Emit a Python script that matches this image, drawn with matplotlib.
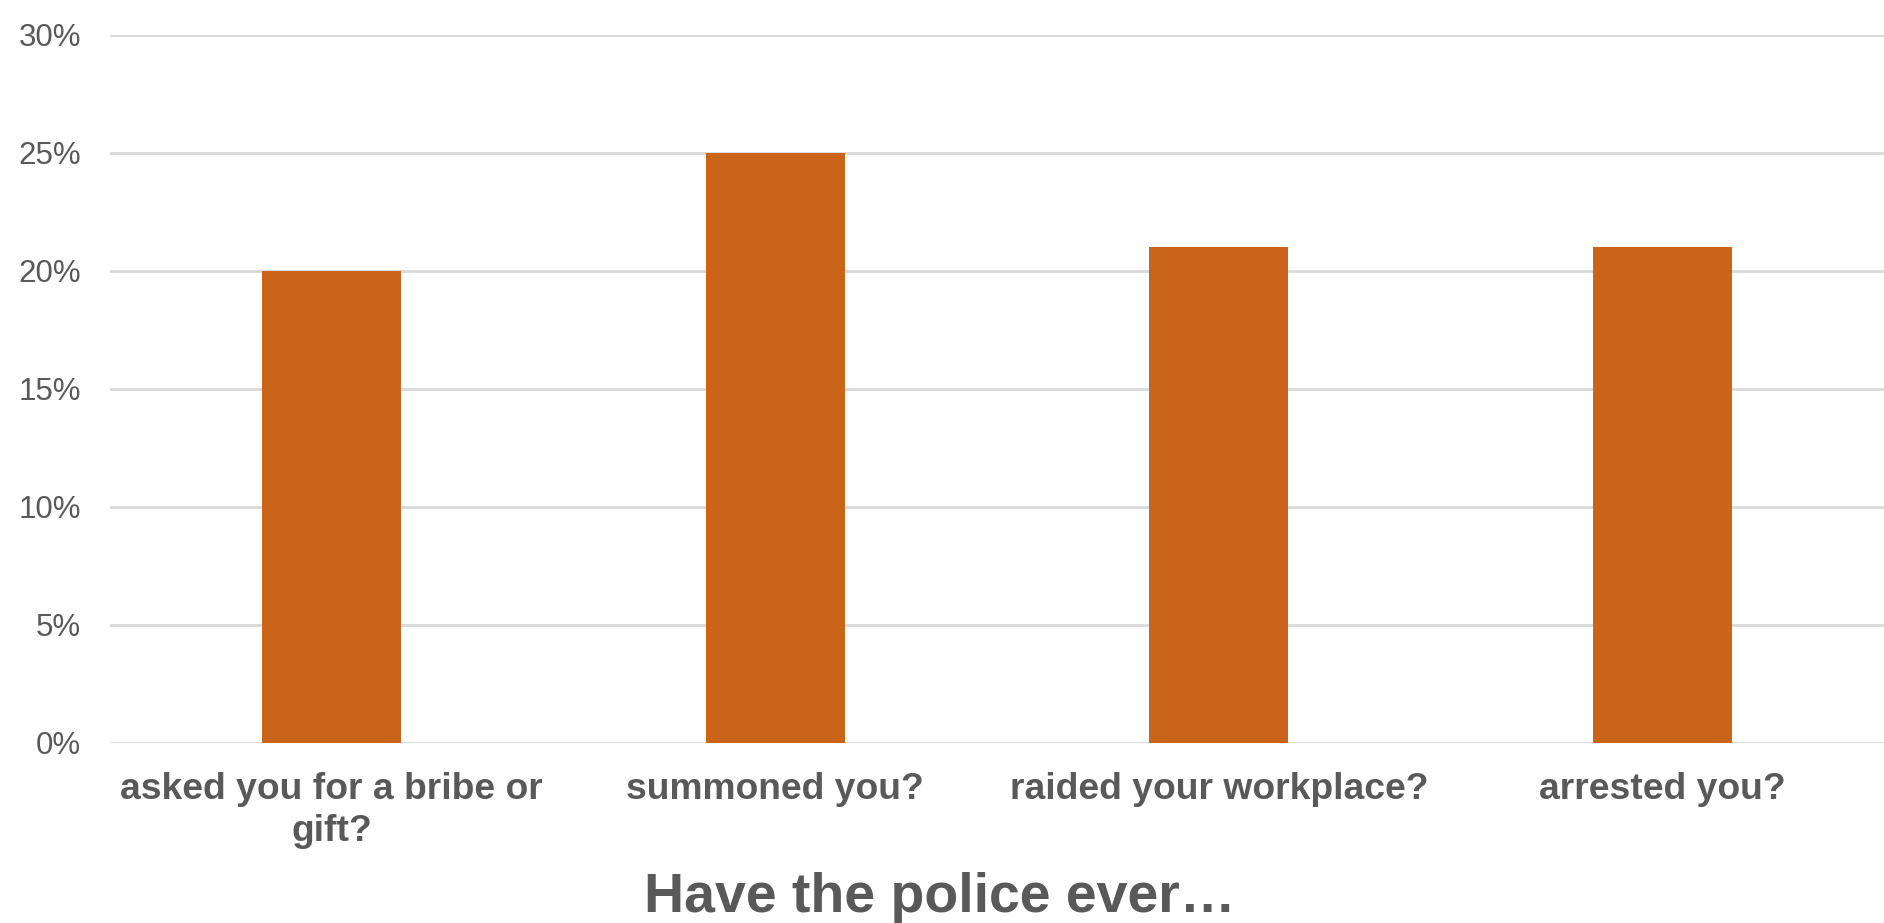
import matplotlib
matplotlib.use("Agg")
import matplotlib.pyplot as plt
from matplotlib.ticker import PercentFormatter

categories = ["asked you for a bribe or\ngift?", "summoned you?", "raided your workplace?", "arrested you?"]
values = [0.20, 0.25, 0.21, 0.21]
yticks = [0.0, 0.05, 0.10, 0.15, 0.20, 0.25, 0.30]
title = "Have the police ever\u2026"

W, H = 1884, 923
fig = plt.figure(figsize=(W / 100, H / 100), dpi=100)
plt.rcParams['font.family'] = ['Liberation Sans', 'DejaVu Sans']
ax = fig.add_axes([110 / W, 1 - 743 / H, (1884 - 110) / W, (743 - 35) / H])

text_col = "#595959"
grid_col = "#d9d9d9"
bar_col = "#C9641A"

x = list(range(len(categories)))
ax.bar(x, values, width=0.313, color=bar_col, zorder=3)
ax.set_xlim(-0.5, len(categories) - 0.5)
ax.set_ylim(0, 0.30)
ax.set_yticks(yticks)
ax.yaxis.set_major_formatter(PercentFormatter(1.0, decimals=0))
ax.grid(axis='y', color=grid_col, linewidth=2, zorder=0)
ax.set_axisbelow(True)
for s in ax.spines.values():
    s.set_visible(False)
ax.set_xticks(x)
ax.set_xticklabels(categories, fontsize=26.8, fontweight='bold', color=text_col, linespacing=1.25)
ax.tick_params(axis='x', length=0, pad=21)
ax.tick_params(axis='y', length=0, pad=21, labelsize=22.5, labelcolor=text_col)

fig.text(940 / W, 1 - 912 / H, title, ha='center', va='baseline', fontsize=40,
         fontweight='bold', color=text_col)

fig.savefig("out.png", dpi=100, facecolor='white')
